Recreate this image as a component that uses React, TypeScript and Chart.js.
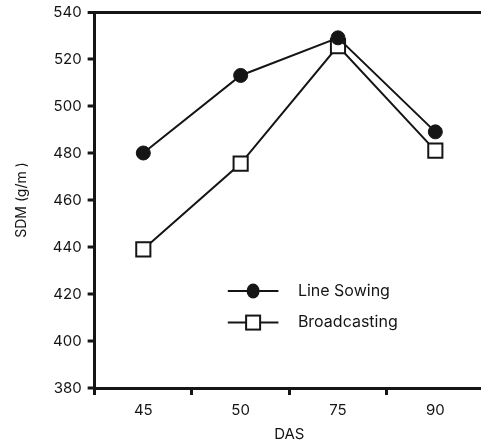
import React, { useEffect, useRef } from "react";
import { Chart, registerables } from "chart.js";

Chart.register(...registerables);

const categories = ["45", "50", "75", "90"];
const lineSowing = [480, 513, 529, 489];
const broadcasting = [439, 475.5, 525.5, 481];
const seriesNames = ["Line Sowing", "Broadcasting"];
const yMin = 380;
const yMax = 540;
const yStep = 20;

const FONT = "Inter, 'Liberation Sans', Arial, sans-serif";
const INK = "#151515";

const insideLegend = {
  id: "insideLegend",
  afterDraw(chart: any) {
    const { ctx, chartArea } = chart;
    const w = chartArea.right - chartArea.left;
    const h = chartArea.bottom - chartArea.top;
    const x0 = chartArea.left + w * 0.342;
    const x1 = chartArea.left + w * 0.472;
    const xm = (x0 + x1) / 2;
    const xt = chartArea.left + w * 0.522;
    const ys = [chartArea.top + h * 0.742, chartArea.top + h * 0.826];
    ctx.save();
    chart.data.datasets.forEach((ds: any, i: number) => {
      const y = ys[i];
      ctx.strokeStyle = INK;
      ctx.lineWidth = 2;
      ctx.beginPath();
      ctx.moveTo(x0, y);
      ctx.lineTo(x1, y);
      ctx.stroke();
      if (i === 0) {
        ctx.fillStyle = INK;
        ctx.beginPath();
        ctx.ellipse(xm, y, 6.5, 7.5, 0, 0, Math.PI * 2);
        ctx.fill();
      } else {
        ctx.fillStyle = "#ffffff";
        ctx.fillRect(xm - 7, y - 7, 14, 14);
        ctx.strokeRect(xm - 7, y - 7, 14, 14);
      }
      ctx.fillStyle = INK;
      ctx.font = `16px ${FONT}`;
      ctx.textBaseline = "middle";
      ctx.textAlign = "left";
      ctx.fillText(ds.label, xt, y);
    });
    ctx.restore();
  },
};

export default function App() {
  const ref = useRef<HTMLCanvasElement | null>(null);
  useEffect(() => {
    if (!ref.current) return;
    const chart = new Chart(ref.current, {
      type: "line",
      data: {
        labels: categories,
        datasets: [
          {
            label: seriesNames[0],
            data: lineSowing,
            borderColor: INK,
            borderWidth: 2,
            pointStyle: "circle",
            pointRadius: 7,
            pointBackgroundColor: INK,
            pointBorderColor: INK,
            pointBorderWidth: 1,
            tension: 0,
          },
          {
            label: seriesNames[1],
            data: broadcasting,
            borderColor: INK,
            borderWidth: 2,
            pointStyle: "rect",
            pointRadius: 10,
            pointBackgroundColor: "#ffffff",
            pointBorderColor: INK,
            pointBorderWidth: 2,
            tension: 0,
          },
        ],
      },
      options: {
        animation: false,
        responsive: true,
        maintainAspectRatio: false,
        layout: { padding: { top: 0, right: 0, bottom: 1, left: 13 } },
        plugins: {
          legend: { display: false },
          tooltip: { enabled: false },
        },
        scales: {
          x: {
            type: "category",
            offset: true,
            grid: {
              offset: true,
              drawOnChartArea: false,
              drawTicks: true,
              tickLength: 7,
              tickWidth: 3,
              tickColor: INK,
            },
            border: { display: true, color: INK, width: 3 },
            ticks: {
              color: INK,
              font: { family: FONT, size: 15 },
              padding: 6,
            },
            title: {
              display: true,
              text: "DAS",
              color: INK,
              font: { family: FONT, size: 15 },
              padding: { top: 0, bottom: 0 },
            },
            afterFit: (scale: any) => {
              scale.paddingLeft = 0;
              scale.paddingRight = 0;
            },
          },
          y: {
            min: yMin,
            max: yMax,
            grid: {
              drawOnChartArea: true,
              color: (c: any) => (c.tick && c.tick.value === yMax ? INK : "rgba(0,0,0,0)"),
              lineWidth: (c: any) => (c.tick && c.tick.value === yMax ? 3 : 0),
              drawTicks: true,
              tickLength: 7,
              tickWidth: 3,
              tickColor: INK,
            },
            border: { display: true, color: INK, width: 3 },
            ticks: {
              stepSize: yStep,
              color: INK,
              font: { family: FONT, size: 15, lineHeight: 0.7 },
              padding: 6,
            },
            title: {
              display: true,
              text: "SDM (g/m )",
              color: INK,
              font: { family: FONT, size: 14 },
              padding: { top: 0, bottom: 17 },
            },
          },
        },
      },
      plugins: [insideLegend],
    });
    return () => chart.destroy();
  }, []);

  return (
    <div
      style={{
        position: "fixed",
        left: 0,
        top: 0,
        width: 481,
        height: 444,
        overflow: "hidden",
        background: "#fff",
      }}
    >
      <div style={{ position: "relative", width: 496, height: 444 }}>
        <canvas ref={ref} />
      </div>
    </div>
  );
}
